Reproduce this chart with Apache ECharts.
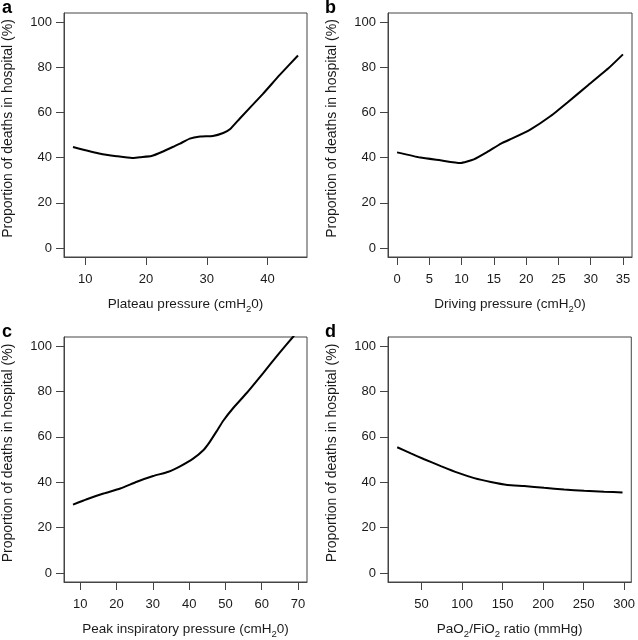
<!DOCTYPE html>
<html>
<head>
<meta charset="utf-8">
<script src="https://cdn.jsdelivr.net/npm/echarts@6/dist/echarts.min.js"></script>
<style>
html,body{margin:0;padding:0;background:#fff;}
#chart{width:638px;height:640px;}
</style>
</head>
<body>
<div id="chart"></div>
<script>
// Panel a: Plateau pressure
var plateauX = [8, 12.5, 15.2, 17.7, 19, 20.9, 22.8, 24.8, 25.6, 27.2, 28.9, 31.0, 32.7, 33.8, 35.4, 39.2, 42, 45];
var plateauY = [44.7, 41.7, 40.6, 39.8, 40.2, 40.7, 42.7, 45.2, 46.2, 48.4, 49.3, 49.6, 50.9, 52.5, 57.2, 68.1, 76.6, 85.2];
// Panel b: Driving pressure
var drivingX = [0, 3.6, 6.7, 9.8, 11.9, 14.0, 16.1, 18.1, 20.7, 23.8, 26.4, 29.5, 32.7, 35];
var drivingY = [42.3, 40.0, 38.8, 37.6, 39.2, 42.5, 46.2, 48.8, 52.5, 58.4, 64.4, 71.8, 79.4, 85.7];
// Panel c: Peak inspiratory pressure
var peakX = [8, 11.8, 16.4, 21, 25.6, 30.1, 34.3, 37.5, 41.1, 43.9, 45.7, 47.6, 49.4, 52.1, 55.8, 60.4, 64.9, 68.6, 70];
var peakY = [30.1, 32.5, 35.0, 37.2, 40.2, 42.7, 44.6, 47.0, 50.4, 54.1, 57.8, 62.5, 67.1, 72.6, 79.2, 88.1, 97.0, 104, 106.8];
// Panel d: PaO2/FiO2 ratio
var ratioX = [20, 36.8, 53.3, 73.8, 94.4, 115, 135.5, 156, 176.6, 201.3, 226, 250.7, 275.3, 298];
var ratioY = [55.4, 52.7, 50.1, 47.1, 44.2, 41.8, 40.1, 38.8, 38.3, 37.5, 36.8, 36.2, 35.8, 35.5];

// Tick labels
var yTicks = [0, 20, 40, 60, 80, 100];
var plateauTicks = [10, 20, 30, 40];
var drivingTicks = [0, 5, 10, 15, 20, 25, 30, 35];
var peakTicks = [10, 20, 30, 40, 50, 60, 70];
var ratioTicks = [50, 100, 150, 200, 250, 300];

var yTitle = 'Proportion of deaths in hospital (%)';
var xTitles = [
  '{n|Plateau pressure (cmH}{s|2}{n|0)}',
  '{n|Driving pressure (cmH}{s|2}{n|0)}',
  '{n|Peak inspiratory pressure (cmH}{s|2}{n|0)}',
  '{n|PaO}{s|2}{n|/FiO}{s|2}{n| ratio (mmHg)}'
];
var panelLetters = ['a', 'b', 'c', 'd'];

var FONT = '"Liberation Sans", Arial, Helvetica, sans-serif';
var TXT = '#1a1a1a';
var BOX = '#444';

function zip(xs, ys) { return xs.map(function (x, i) { return [x, ys[i]]; }); }

var grids = [
  {left: 63, top: 13, width: 244, height: 244},
  {left: 388, top: 13, width: 244, height: 244},
  {left: 63, top: 337, width: 244, height: 245},
  {left: 388, top: 337, width: 244, height: 245}
];
var xRanges = [[6.52, 46.48], [-1.4, 36.4], [5.52, 72.48], [8.6, 308.8]];
var xTickSets = [plateauTicks, drivingTicks, peakTicks, ratioTicks];
var seriesData = [zip(plateauX, plateauY), zip(drivingX, drivingY), zip(peakX, peakY), zip(ratioX, ratioY)];
var letterPos = [[2, -1], [325, -1], [2, 323], [325, 323]];

var option = {
  animation: false,
  backgroundColor: '#fff',
  grid: grids.map(function (g) {
    return Object.assign({show: true, borderColor: BOX, borderWidth: 1, backgroundColor: 'transparent', containLabel: false}, g);
  }),
  xAxis: grids.map(function (g, i) {
    return {
      type: 'value', gridIndex: i, min: xRanges[i][0], max: xRanges[i][1],
      axisLine: {show: true, onZero: false, lineStyle: {color: BOX, width: 1}},
      axisTick: {show: true, length: 8, inside: false, customValues: xTickSets[i], lineStyle: {color: BOX}},
      axisLabel: {show: true, customValues: xTickSets[i], margin: 16, color: TXT, fontSize: 13, fontFamily: FONT},
      splitLine: {show: false},
      name: xTitles[i], nameLocation: 'middle', nameGap: 38,
      nameTextStyle: {
        color: TXT, fontFamily: FONT, fontSize: 13.5,
        rich: {
          n: {fontSize: 13.5, fontFamily: FONT, color: TXT, verticalAlign: 'bottom', lineHeight: 16},
          s: {fontSize: 9.5, fontFamily: FONT, color: TXT, verticalAlign: 'bottom', lineHeight: 12, padding: [0, 0, -3, 0]}
        }
      }
    };
  }),
  yAxis: grids.map(function (g, i) {
    return {
      type: 'value', gridIndex: i, min: -4, max: 104,
      axisLine: {show: true, onZero: false, lineStyle: {color: BOX, width: 1}},
      axisTick: {show: true, length: 8, inside: false, customValues: yTicks, lineStyle: {color: BOX}},
      axisLabel: {show: true, customValues: yTicks, margin: 12, color: TXT, fontSize: 13, fontFamily: FONT},
      splitLine: {show: false},
      name: yTitle, nameLocation: 'middle', nameGap: 49, nameRotate: 90,
      nameTextStyle: {color: TXT, fontFamily: FONT, fontSize: 14, padding: [0, 0, 0, 13]}
    };
  }),
  series: seriesData.map(function (d, i) {
    return {
      type: 'line', xAxisIndex: i, yAxisIndex: i, data: d,
      showSymbol: false, smooth: 0.15, clip: true,
      lineStyle: {color: '#000', width: 2}
    };
  }),
  graphic: panelLetters.map(function (t, i) {
    return {type: 'text', left: letterPos[i][0], top: letterPos[i][1],
      style: {text: t, font: 'bold 18px ' + FONT, fill: '#000'}};
  })
};

var chart = echarts.init(document.getElementById('chart'), null, {renderer: 'canvas'});
chart.setOption(option);
</script>
</body>
</html>
